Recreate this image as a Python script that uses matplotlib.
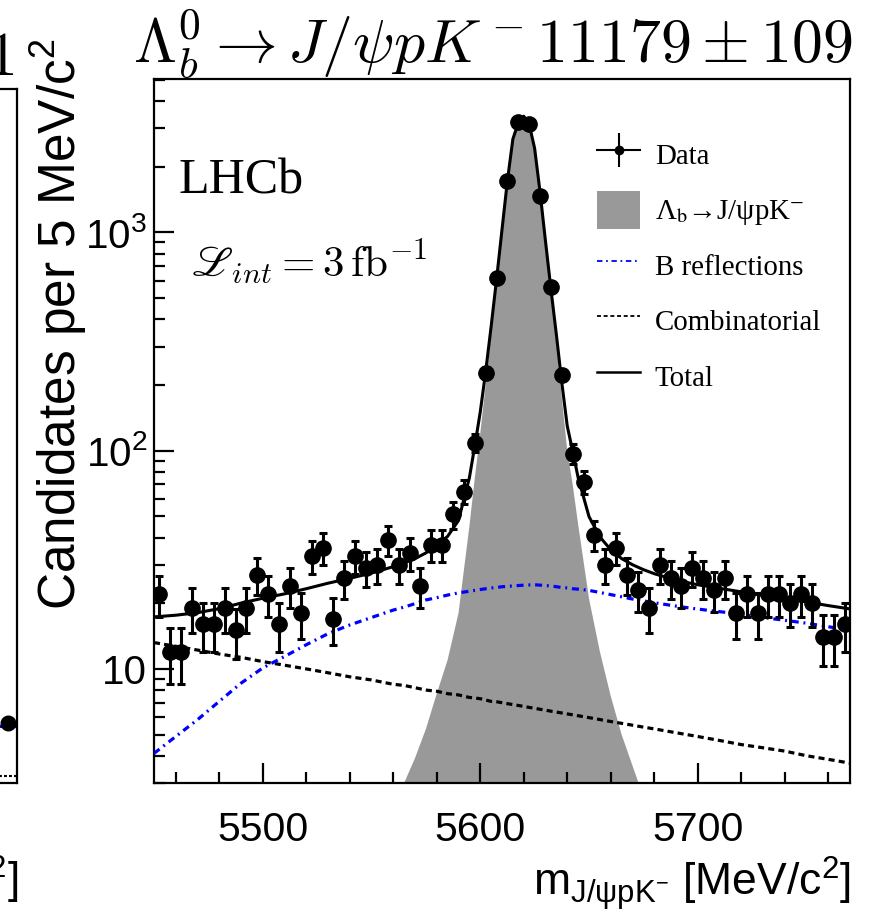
import numpy as np
import matplotlib
matplotlib.use("Agg")
import matplotlib.pyplot as plt
from matplotlib.lines import Line2D
from matplotlib.patches import Patch
from matplotlib.legend_handler import HandlerTuple
from matplotlib.ticker import FixedLocator, MultipleLocator, NullFormatter, FixedFormatter, LogLocator

SANS = ['Liberation Sans', 'DejaVu Sans']
SERIF = ['Liberation Serif', 'DejaVu Serif']
plt.rcParams['font.family'] = SANS
plt.rcParams['mathtext.fontset'] = 'custom'
plt.rcParams['mathtext.rm'] = 'Liberation Sans'
plt.rcParams['mathtext.it'] = 'Liberation Sans:italic'
plt.rcParams['mathtext.bf'] = 'Liberation Sans:bold'

# ---------------- data ----------------
bin_low = 5450.0
bin_width = 5.0
counts = [22, 12, 12, 19, 16, 16, 19, 15, 19, 27, 22, 16, 24, 18, 33, 36,
          17, 26, 33, 29, 30, 39, 30, 34, 24, 37, 37, 51, 65, 109, 228, 620,
          1725, 3216, 3148, 1473, 564, 223, 97, 72, 41, 30, 36, 27, 23, 19, 30, 26,
          24, 29, 26, 23, 26, 18, 22, 18, 22, 22, 20, 22, 20, 14, 14, 16]

curve_mass = [5450, 5460, 5470, 5480, 5490, 5500, 5510, 5520, 5530, 5540, 5550,
              5560, 5565, 5570, 5575, 5580, 5585, 5590, 5595, 5597.5, 5600,
              5602.5, 5605, 5607.5, 5610, 5612.5, 5615, 5617.5, 5620, 5622.5,
              5625, 5627.5, 5630, 5632.5, 5635, 5637.5, 5640, 5642.5, 5645,
              5650, 5655, 5660, 5665, 5670, 5675, 5680, 5690, 5700, 5710, 5720,
              5730, 5740, 5750, 5760, 5770]
signal_curve = [0.01, 0.02, 0.05, 0.08, 0.12, 0.18, 0.27, 0.4, 0.6, 0.9, 1.4,
                2.3, 3.0, 3.9, 5.3, 7.7, 11.0, 18.0, 45, 75, 120,
                200, 340, 580, 1000, 1700, 2650, 3150, 3380, 3100,
                2400, 1500, 880, 520, 310, 175, 100, 70, 46,
                21, 12, 7.5, 5.0, 3.6, 2.6, 1.9, 1.0, 0.6, 0.4, 0.25,
                0.15, 0.1, 0.07, 0.05, 0.03]
refl_curve = [4.1, 4.9, 5.85, 7.1, 8.6, 10.1, 11.4, 12.9, 14.5, 15.9, 17.2,
              18.6, 19.2, 19.9, 20.7, 21.2, 21.8, 22.3, 22.7, 22.9, 23.1,
              23.3, 23.5, 23.6, 23.8, 23.9, 24.0, 24.1, 24.2, 24.25,
              24.3, 24.2, 24.1, 24.0, 23.8, 23.6, 23.5, 23.3, 23.2,
              22.9, 22.4, 21.9, 21.4, 20.9, 20.5, 20.1, 19.4, 18.8, 18.3, 17.8,
              17.2, 16.7, 16.2, 15.6, 15.1]
comb_curve = [13.2, 12.7, 12.2, 11.7, 11.3, 10.8, 10.4, 10.0, 9.6, 9.2, 8.9,
              8.5, 8.4, 8.2, 8.0, 7.9, 7.7, 7.6, 7.4, 7.36, 7.3,
              7.2, 7.1, 7.07, 7.0, 6.93, 6.86, 6.8, 6.73, 6.66,
              6.6, 6.53, 6.47, 6.4, 6.34, 6.28, 6.22, 6.16, 6.1,
              5.98, 5.86, 5.74, 5.63, 5.52, 5.41, 5.31, 5.1, 4.9, 4.7, 4.5,
              4.35, 4.2, 4.0, 3.85, 3.7]

xticks_major = [5500, 5600, 5700]
yticks_major = [10, 100, 1000]
ytick_labels = ['10', '$10^{2}$', '$10^{3}$']

legend_labels = ['Data', 'Λ$_{\\mathrm{b}}$→J/ψpK$^{-}$', 'B reflections',
                 'Combinatorial', 'Total']

# left (cut) panel remnants
left_point_x = [0.9585]
left_point_y = [5.7]

# ---------------- figure ----------------
W, H = 870, 913
fig = plt.figure(figsize=(W / 100, H / 100), dpi=100)

def fx(px):
    return px / W

def fy(py):
    return 1 - py / H

ax_l, ax_r, ax_t, ax_b = 154, 850, 79, 783
ax = fig.add_axes([fx(ax_l), fy(ax_b), (ax_r - ax_l) / W, (ax_b - ax_t) / H])

counts_arr = np.array(counts, dtype=float)
centers = bin_low + bin_width * (np.arange(len(counts)) + 0.5)
errs = np.sqrt(counts_arr)

m = np.array(curve_mass)
sig = np.array(signal_curve)
refl = np.array(refl_curve)
comb = np.array(comb_curve)
total = sig + refl + comb

ax.set_yscale('log')
ax.fill_between(m, sig, 1e-3, color='#999999', lw=0, zorder=1)
ax.plot(m, comb, color='k', lw=2.3, ls=(0, (1.9, 1.3)), zorder=2)
ax.plot(m, refl, color='#0000ff', lw=2.3, ls=(0, (2.2, 1.5, 0.6, 1.5)), zorder=3)
ax.plot(m, total, color='k', lw=2.2, zorder=4)
ax.errorbar(centers, counts_arr, yerr=errs, fmt='o', color='k', ms=11,
            elinewidth=2.2, capsize=2.8, capthick=2.2, zorder=5)

ax.set_xlim(5450, 5770)
ax.set_ylim(3.0, 5050)

ax.xaxis.set_major_locator(FixedLocator(xticks_major))
ax.xaxis.set_minor_locator(MultipleLocator(20))
ax.yaxis.set_major_locator(FixedLocator(yticks_major))
ax.yaxis.set_major_formatter(FixedFormatter(ytick_labels))
ax.yaxis.set_minor_locator(LogLocator(base=10, subs=np.arange(2, 10)))
ax.yaxis.set_minor_formatter(NullFormatter())

ax.tick_params(which='both', direction='in', top=False, right=False, width=1.6)
ax.tick_params(which='major', length=14.5)
ax.tick_params(which='minor', length=8)
ax.tick_params(axis='x', which='major', labelsize=29.5, pad=20)
ax.tick_params(axis='y', which='major', labelsize=29, pad=5)
for s in ax.spines.values():
    s.set_linewidth(1.6)

# texts
fig.text(fx(133), fy(63), r'$\Lambda_b^0 \rightarrow J/\psi p K^- 11179 \pm 109$',
         fontsize=44.5, ha='left', va='baseline', math_fontfamily='cm')
fig.text(fx(178), fy(193), 'LHCb', family=SERIF, fontsize=36, ha='left', va='baseline')
fig.text(fx(191), fy(277), r'$\mathscr{L}_{int} = 3\,\mathrm{fb}^{-1}$',
         fontsize=31, ha='left', va='baseline', math_fontfamily='cm')
fig.text(fx(59), fy(38), 'Candidates per 5 MeV/c$^{2}$', rotation=90,
         fontsize=37, ha='center', va='top')
fig.text(fx(851), fy(895), r'm$_{\mathregular{J/\psi pK^{-}}}$ [MeV/c$^{2}$]',
         fontsize=32, ha='right', va='baseline')

# legend
h_data = (Line2D([], [], color='k', lw=1.5),
          Line2D([], [], color='k', marker='|', ms=24, mew=1.5, ls='none'),
          Line2D([], [], color='k', marker='o', ms=6, ls='none'))
h_sig = Patch(facecolor='#999999', edgecolor='none')
h_refl = Line2D([], [], color='#0000ff', lw=1.3, ls=(0, (3, 2, 1, 2)))
h_comb = Line2D([], [], color='k', lw=1.3, ls=(0, (2.2, 1.5)))
h_tot = Line2D([], [], color='k', lw=1.8)
leg = ax.legend([h_data, h_sig, h_refl, h_comb, h_tot], legend_labels,
                handler_map={tuple: HandlerTuple(ndivide=1, pad=0)},
                loc='upper left', bbox_to_anchor=(fx(597), fy(136)),
                bbox_transform=fig.transFigure, frameon=False,
                prop={'family': SERIF, 'size': 20.8}, borderpad=0,
                borderaxespad=0, handlelength=1.5, handleheight=1.594,
                handletextpad=0.5, labelspacing=0.64)
for t in leg.get_texts():
    t.set_math_fontfamily('stix')

# left cut panel remnants
axl = fig.add_axes([fx(-200), fy(783), 217 / W, (783 - 89) / H])
axl.set_yscale('log')
axl.set_xlim(0, 1)
axl.set_ylim(3.0, 5050)
axl.plot([0.0, 1.0], [5.5, 5.5], color='#0000ff', lw=2.2, ls=(0, (1.8, 1.3, 0.5, 1.3)))
axl.plot([0.0, 1.0], [3.25, 3.25], color='k', lw=1.5, ls=(0, (1.4, 1.0)))
axl.plot(left_point_x, left_point_y, 'o', color='k', ms=10.5, clip_on=False)
axl.set_xticks([])
axl.set_yticks([])
axl.minorticks_off()
for s in axl.spines.values():
    s.set_linewidth(1.6)
fig.text(fx(14), fy(75), r'$1$', fontsize=44.5, ha='right', va='baseline', math_fontfamily='cm')
fig.text(fx(19), fy(895), '[MeV/c$^{2}$]', fontsize=32, ha='right', va='baseline')

fig.savefig('out.png', dpi=100)
